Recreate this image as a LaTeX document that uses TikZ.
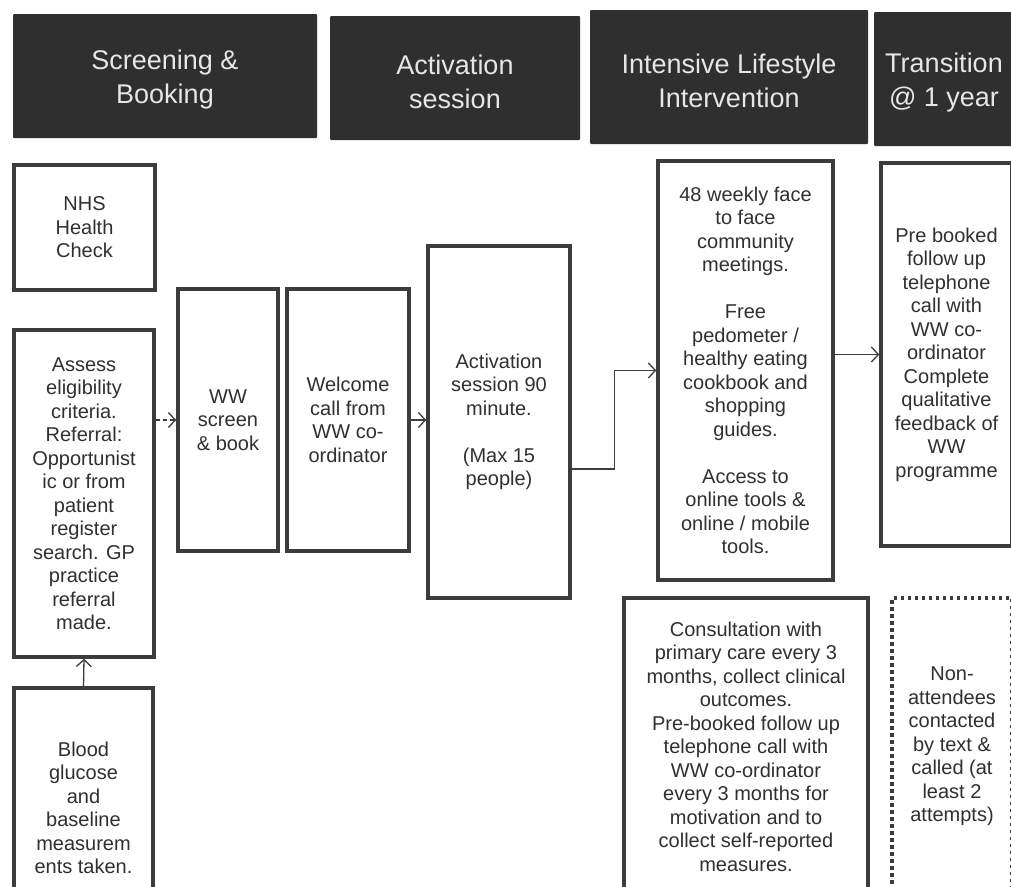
\documentclass[tikz,border=0pt]{standalone}
\usepackage{fontspec}
\setmainfont{Liberation Sans}
\usepackage{tikz}
\usetikzlibrary{arrows.meta}

\definecolor{headgray}{HTML}{2F2F2F}
\definecolor{headtext}{HTML}{E6E6E6}
\definecolor{boxgray}{HTML}{3C3C3C}
\definecolor{txtgray}{HTML}{303030}

\tikzset{
	head/.style={fill=headgray, inner sep=0pt, rounded corners=1pt},
	headtxt/.style={text=headtext, align=center, inner sep=0pt, yshift=-4pt,
		font=\fontsize{27}{34}\selectfont},
	stage/.style={draw=boxgray, line width=3.5pt, text=txtgray, align=center,
		inner sep=0pt, font=\fontsize{20}{23.5}\selectfont},
	flow/.style={-{Straight Barb[length=7pt,width=15pt,line width=1.3pt]},
		line width=1.3pt, draw=boxgray},
}

\begin{document}
\begin{tikzpicture}[x=1pt,y=-1pt]
			\useasboundingbox[fill=white] (0,0) rectangle (1011,886);
			% stage headers
			\foreach \nm/\cx/\cy/\w/\h/\txt in {
				hscreen/165/76/304/124/{Screening \&\\Booking},
				hact/455/78/250/124/{Activation\\session},
				hils/729/77/278/134/{Intensive Lifestyle\\Intervention},
				htrans/944/79/140/134/{Transition\\@ 1 year}} {
				\node[head, minimum width=\w, minimum height=\h,
					label={[headtxt]center:{\txt}}] (\nm) at (\cx,\cy) {};
			}
			% boxes
			\node[stage, minimum width=141, minimum height=125] (nhs) at (84.5,227.5) {NHS\\Health\\Check};
			\node[stage, minimum width=140, minimum height=327] (assess) at (84,493.5) {Assess\\eligibility\\criteria.\\Referral:\\Opportunist\\ic or from\\patient\\register\\search. GP\\practice\\referral\\made.};
			\node[stage, minimum width=139, minimum height=240] (blood) at (83.5,808) {Blood\\glucose\\and\\baseline\\measurem\\ents taken.};
			\node[stage, minimum width=100, minimum height=262] (wwscreen) at (228,420) {WW\\screen\\\& book};
			\node[stage, minimum width=122, minimum height=262] (welcome) at (348,420) {Welcome\\call from\\WW co-\\ordinator};
			\node[stage, minimum width=142, minimum height=352] (activation) at (499,422) {Activation\\session 90\\minute.\\[23.5pt](Max 15\\people)};
			\node[stage, minimum width=175, minimum height=419] (weekly) at (745.5,370.5) {48 weekly face\\to face\\community\\meetings.\\[23.5pt]Free\\pedometer /\\healthy eating\\cookbook and\\shopping\\guides.\\[23.5pt]Access to\\online tools \&\\online / mobile\\tools.};
			\node[stage, minimum width=131, minimum height=383] (prebooked) at (946.5,354.5) {Pre booked\\follow up\\telephone\\call with\\WW co-\\ordinator\\Complete\\qualitative\\feedback of\\WW\\programme};
			\node[stage, minimum width=244, minimum height=297] (consult) at (746,746.5) {Consultation with\\primary care every 3\\months, collect clinical\\outcomes.\\Pre-booked follow up\\telephone call with\\WW co-ordinator\\every 3 months for\\motivation and to\\collect self-reported\\measures.};
			\node[stage, dash pattern=on 3.5pt off 3.5pt, minimum width=120, minimum height=297] (nonatt) at (952,746.5) {Non-\\attendees\\contacted\\by text \&\\called (at\\least 2\\attempts)};
			% connectors
			\draw[flow] (blood.north) -- (assess.south);
			\draw[flow, dash pattern=on 4pt off 3pt] (wwscreen.west -| assess.east) -- (wwscreen.west);
			\draw[flow] (welcome.east) -- (welcome.east -| activation.west);
			\draw[flow] ([yshift=-47pt]activation.east) -- ++(43,0) |- (weekly.west);
			\draw[flow] (prebooked.west -| weekly.east) -- (prebooked.west);
\end{tikzpicture}
\end{document}
